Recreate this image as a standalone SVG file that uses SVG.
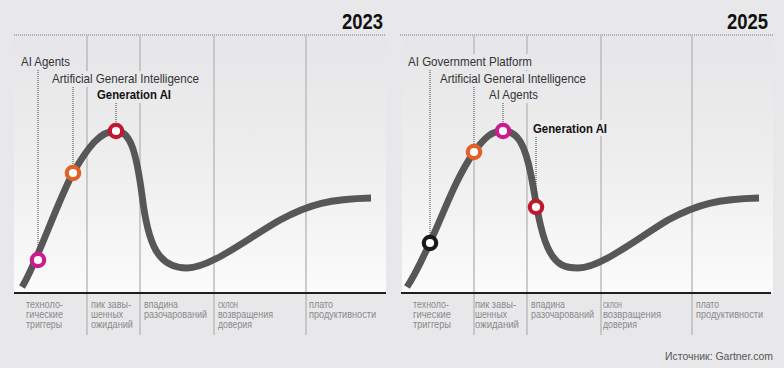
<svg xmlns="http://www.w3.org/2000/svg" width="784" height="368" viewBox="0 0 784 368">
<defs>
<linearGradient id="bg" gradientUnits="userSpaceOnUse" x1="0" y1="35" x2="0" y2="293">
<stop offset="0" stop-color="#e6e6e8"/>
<stop offset="0.5" stop-color="#eeeeef"/>
<stop offset="1" stop-color="#fbfbfb"/>
</linearGradient>
<style>
text{font-family:"Liberation Sans",Arial,sans-serif}
.lbl{font-size:13px;fill:#333}
.bold{font-size:13px;font-weight:bold;fill:#111}
.yr{font-size:22px;font-weight:bold;fill:#111}
.ph{font-size:10px;fill:#8a8a8a}
.src{font-size:11.5px;fill:#555}
.grid{stroke:#bdbdbd;stroke-width:1.5}
.top{stroke:#777;stroke-width:1;stroke-dasharray:1 1}
.axis{stroke:#1e1e1e;stroke-width:2}
.lead{stroke:#444;stroke-width:1;stroke-dasharray:1 1;fill:none}
.curve{fill:none;stroke:#575757;stroke-width:6.8}
.pt{fill:#fff;stroke-width:4.2}
.lb{fill:url(#bg)}
</style>
</defs>
<rect width="784" height="368" fill="#e8e8ea"/>

<g id="panel-2023">
<rect x="14" y="35" width="372" height="258" fill="url(#bg)"/>
<line class="top" x1="14" y1="35" x2="386" y2="35"/>
<text class="yr" x="342" y="29" textLength="41" lengthAdjust="spacingAndGlyphs">2023</text>
<g class="grid-lines">
<line class="grid" x1="87" y1="35" x2="87" y2="335"/>
<line class="grid" x1="140" y1="35" x2="140" y2="335"/>
<line class="grid" x1="214" y1="35" x2="214" y2="335"/>
<line class="grid" x1="306" y1="35" x2="306" y2="335"/>
</g>
<line class="axis" x1="14" y1="293" x2="386" y2="293"/>
<path class="curve" d="M22,287 C36,265 58,200 73,173 C88,147 100,131 116,131 C130,131 136,150 142,195 C148,245 158,268 187,268 C210,268 245,240 280,220 C310,204 330,199 371,198"/>
</g>

<g id="panel-2025">
<rect x="402" y="35" width="371" height="258" fill="url(#bg)"/>
<line class="top" x1="400" y1="35" x2="773" y2="35"/>
<text class="yr" x="727" y="29" textLength="41" lengthAdjust="spacingAndGlyphs">2025</text>
<g class="grid-lines">
<line class="grid" x1="474" y1="35" x2="474" y2="55"/>
<line class="grid" x1="474" y1="146" x2="474" y2="335"/>
<line class="grid" x1="527" y1="35" x2="527" y2="335"/>
<line class="grid" x1="601" y1="35" x2="601" y2="335"/>
<line class="grid" x1="692" y1="35" x2="692" y2="335"/>
</g>
<line class="axis" x1="401" y1="293" x2="771" y2="293"/>
<path class="curve" d="M407,287 C418,270 425,253 432,238 C445,210 455,180 474,152 C485,137 492,131 503,131 C518,131 525,145 531,175 C536,200 540,235 550,252 C557,265 565,268 578,268 C600,268 635,240 668,220 C698,204 718,199 759,198"/>
</g>

<g id="connectors">
<line class="lead" x1="38" y1="70" x2="38" y2="252"/>
<line class="lead" x1="73" y1="87" x2="73" y2="165"/>
<line class="lead" x1="116" y1="103" x2="116" y2="123"/>
<line class="lead" x1="430" y1="70" x2="430" y2="235"/>
<line class="lead" x1="474" y1="87" x2="474" y2="144"/>
<line class="lead" x1="503" y1="103" x2="503" y2="123"/>
<line class="lead" x1="536" y1="137" x2="536" y2="199"/>
</g>

<g id="node-ai-agents-2023">
<rect class="lb" x="19" y="54" width="53" height="16"/>
<text class="lbl" x="21" y="66" textLength="49" lengthAdjust="spacingAndGlyphs">AI Agents</text>
<circle class="pt" cx="38" cy="260" r="6.2" stroke="#cc1a8f"/>
</g>
<g id="node-agi-2023">
<rect class="lb" x="50" y="71" width="151" height="16"/>
<text class="lbl" x="52" y="83" textLength="147" lengthAdjust="spacingAndGlyphs">Artificial General Intelligence</text>
<circle class="pt" cx="73" cy="173" r="6.2" stroke="#e0622a"/>
</g>
<g id="node-genai-2023">
<rect class="lb" x="95" y="87" width="78" height="16"/>
<text class="bold" x="97" y="99" textLength="74" lengthAdjust="spacingAndGlyphs">Generation AI</text>
<circle class="pt" cx="116" cy="131" r="6.2" stroke="#c0182e"/>
</g>

<g id="node-gov-2025">
<rect class="lb" x="406" y="54" width="128" height="16"/>
<text class="lbl" x="408" y="66" textLength="124" lengthAdjust="spacingAndGlyphs">AI Government Platform</text>
<circle class="pt" cx="430" cy="243" r="6.2" stroke="#1a1a1a"/>
</g>
<g id="node-agi-2025">
<rect class="lb" x="438" y="71" width="150" height="16"/>
<text class="lbl" x="440" y="83" textLength="146" lengthAdjust="spacingAndGlyphs">Artificial General Intelligence</text>
<circle class="pt" cx="474" cy="152" r="6.2" stroke="#e0622a"/>
</g>
<g id="node-ai-agents-2025">
<rect class="lb" x="487" y="87" width="53" height="16"/>
<text class="lbl" x="489" y="99" textLength="49" lengthAdjust="spacingAndGlyphs">AI Agents</text>
<circle class="pt" cx="503" cy="131" r="6.2" stroke="#cc1a8f"/>
</g>
<g id="node-genai-2025">
<rect class="lb" x="531" y="120" width="78" height="16"/>
<text class="bold" x="533" y="132.5" textLength="74" lengthAdjust="spacingAndGlyphs">Generation AI</text>
<circle class="pt" cx="536" cy="207" r="6.2" stroke="#c0182e"/>
</g>

<g id="phases-2023">
<text class="ph" x="26" y="308" textLength="37" lengthAdjust="spacingAndGlyphs">техноло-</text>
<text class="ph" x="26" y="318" textLength="37" lengthAdjust="spacingAndGlyphs">гические</text>
<text class="ph" x="26" y="328" textLength="36" lengthAdjust="spacingAndGlyphs">триггеры</text>
<text class="ph" x="91" y="308" textLength="40" lengthAdjust="spacingAndGlyphs">пик завы-</text>
<text class="ph" x="91" y="318" textLength="32" lengthAdjust="spacingAndGlyphs">шенных</text>
<text class="ph" x="91" y="328" textLength="42" lengthAdjust="spacingAndGlyphs">ожиданий</text>
<text class="ph" x="144" y="308" textLength="34" lengthAdjust="spacingAndGlyphs">впадина</text>
<text class="ph" x="144" y="318" textLength="63" lengthAdjust="spacingAndGlyphs">разочарований</text>
<text class="ph" x="218" y="308" textLength="20" lengthAdjust="spacingAndGlyphs">склон</text>
<text class="ph" x="218" y="318" textLength="55" lengthAdjust="spacingAndGlyphs">возвращения</text>
<text class="ph" x="218" y="328" textLength="34" lengthAdjust="spacingAndGlyphs">доверия</text>
<text class="ph" x="309" y="308" textLength="24" lengthAdjust="spacingAndGlyphs">плато</text>
<text class="ph" x="309" y="318" textLength="67" lengthAdjust="spacingAndGlyphs">продуктивности</text>
</g>

<g id="phases-2025">
<text class="ph" x="413" y="308" textLength="36" lengthAdjust="spacingAndGlyphs">техноло-</text>
<text class="ph" x="413" y="318" textLength="38" lengthAdjust="spacingAndGlyphs">гические</text>
<text class="ph" x="413" y="328" textLength="38" lengthAdjust="spacingAndGlyphs">триггеры</text>
<text class="ph" x="475" y="308" textLength="41" lengthAdjust="spacingAndGlyphs">пик завы-</text>
<text class="ph" x="475" y="318" textLength="32" lengthAdjust="spacingAndGlyphs">шенных</text>
<text class="ph" x="475" y="328" textLength="44" lengthAdjust="spacingAndGlyphs">ожиданий</text>
<text class="ph" x="531" y="308" textLength="34" lengthAdjust="spacingAndGlyphs">впадина</text>
<text class="ph" x="531" y="318" textLength="63" lengthAdjust="spacingAndGlyphs">разочарований</text>
<text class="ph" x="603" y="308" textLength="19" lengthAdjust="spacingAndGlyphs">склон</text>
<text class="ph" x="603" y="318" textLength="58" lengthAdjust="spacingAndGlyphs">возвращения</text>
<text class="ph" x="603" y="328" textLength="34" lengthAdjust="spacingAndGlyphs">доверия</text>
<text class="ph" x="696" y="308" textLength="23" lengthAdjust="spacingAndGlyphs">плато</text>
<text class="ph" x="696" y="318" textLength="67" lengthAdjust="spacingAndGlyphs">продуктивности</text>
</g>

<text class="src" x="773" y="360" text-anchor="end" textLength="108" lengthAdjust="spacingAndGlyphs">Источник: Gartner.com</text>
</svg>
